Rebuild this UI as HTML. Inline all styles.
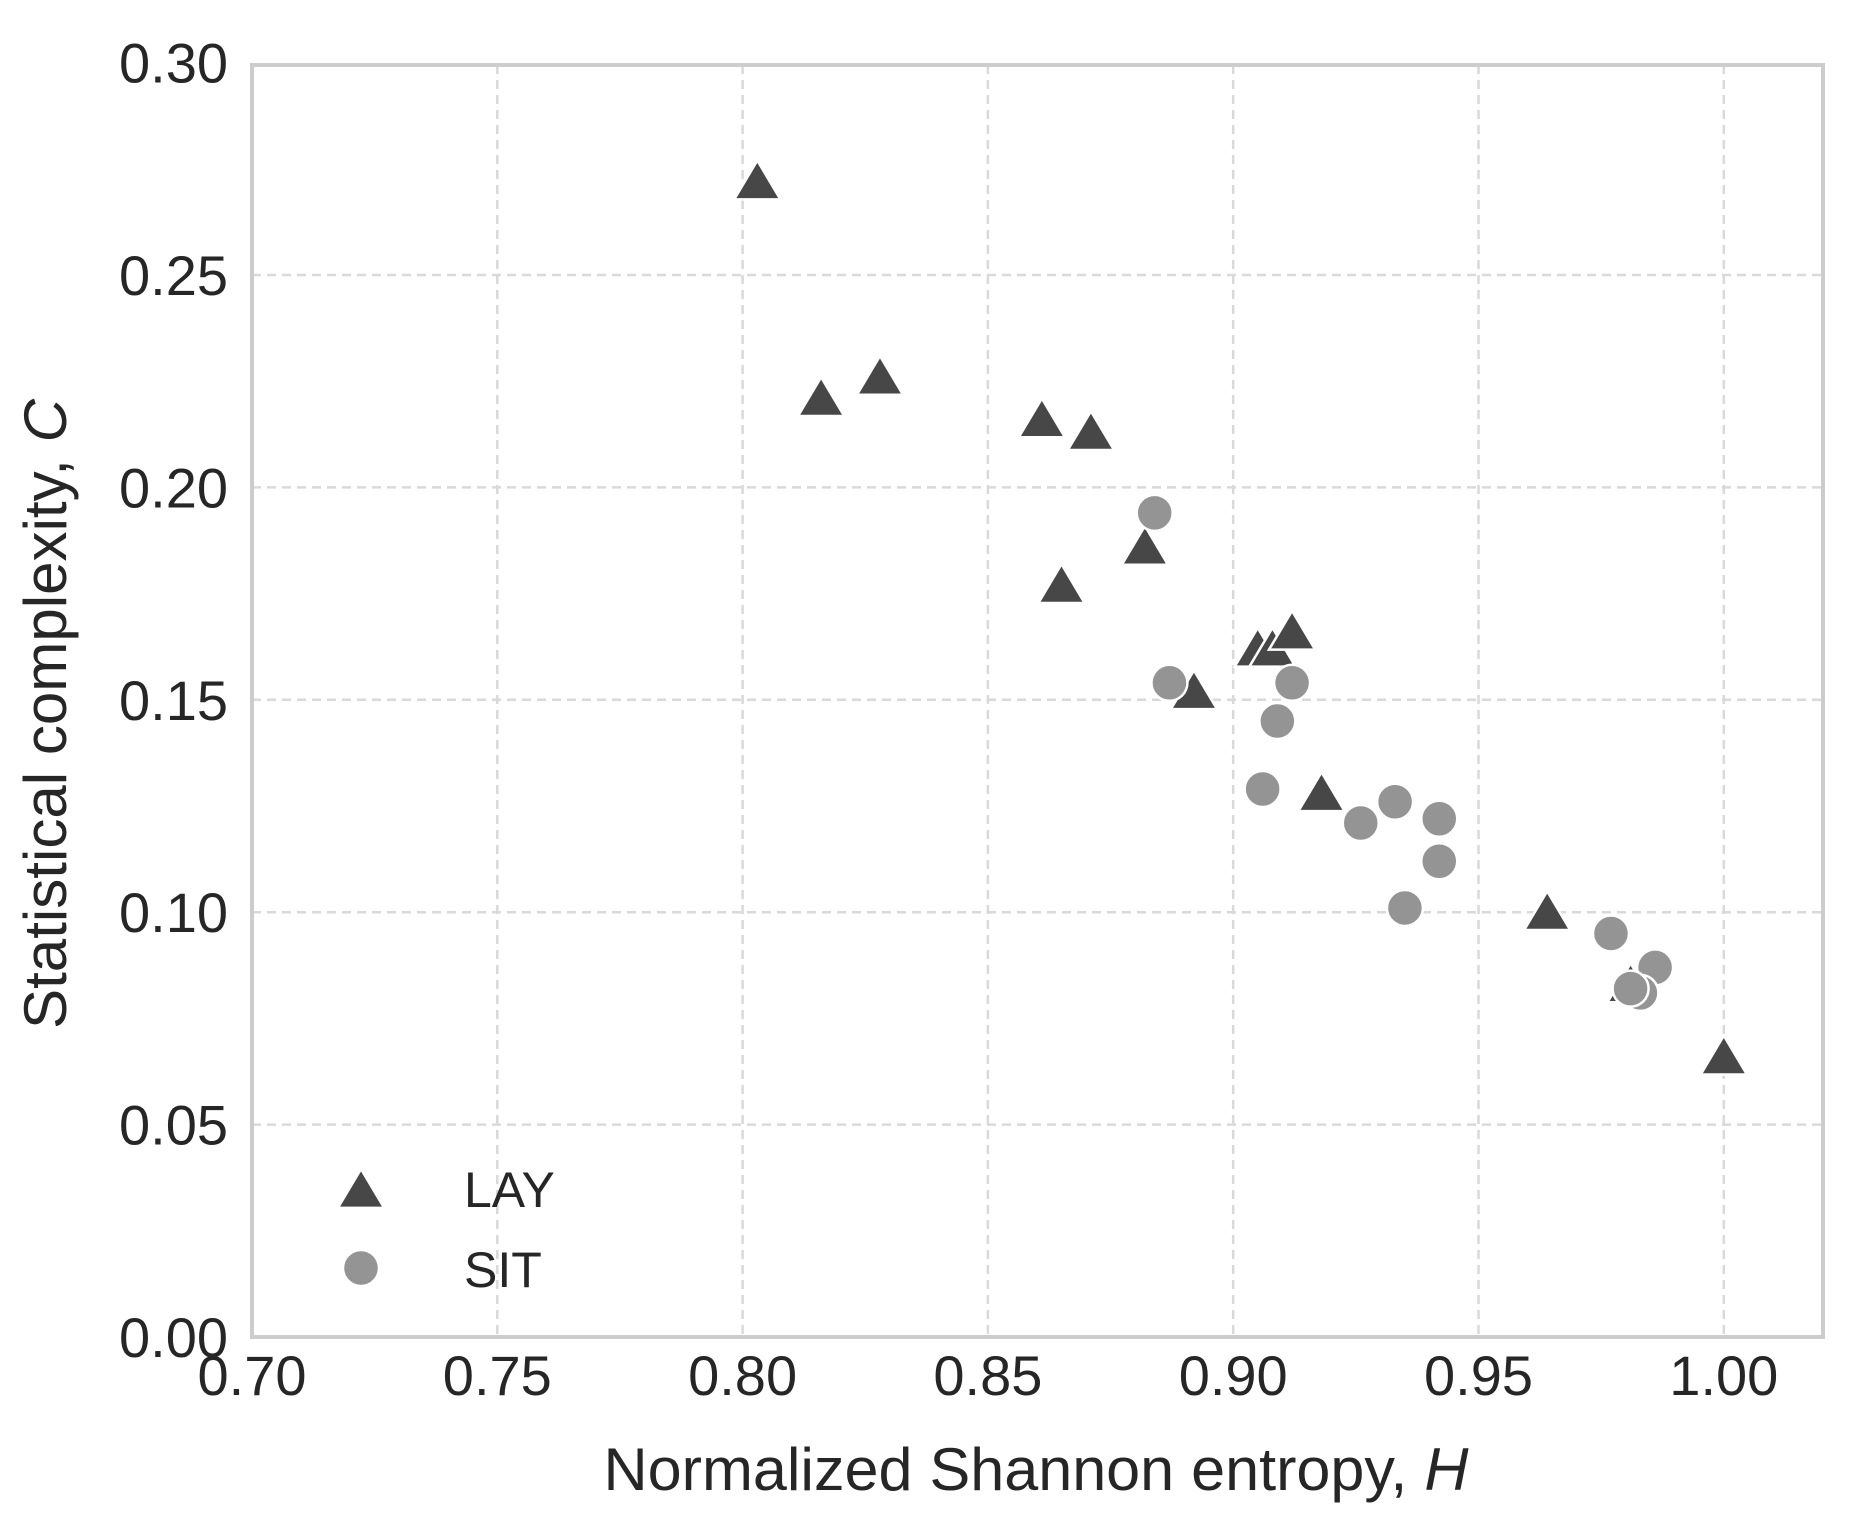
<!DOCTYPE html>
<html><head><meta charset="utf-8"><style>
html,body{margin:0;padding:0;background:#fff;}
svg{display:block;}
text{font-family:"Liberation Sans",Arial,sans-serif;fill:#262626;}
</style></head><body>
<svg id="s" width="1857" height="1522" viewBox="0 0 1857 1522" xmlns="http://www.w3.org/2000/svg">
<rect width="1857" height="1522" fill="#fff"/>
<g id="grid" stroke="#d9d9d9" stroke-width="2.5" stroke-dasharray="9,6"></g>
<rect x="252" y="65" width="1571" height="1272" fill="none" stroke="#cccccc" stroke-width="4"/>
<g id="ticks" font-size="56"></g>
<g id="pts"></g>
<text x="1036" y="1490" font-size="60" text-anchor="middle" textLength="865" lengthAdjust="spacingAndGlyphs">Normalized Shannon entropy, <tspan font-style="italic">H</tspan></text>
<text transform="translate(66,714) rotate(-90)" font-size="60" text-anchor="middle" textLength="630" lengthAdjust="spacingAndGlyphs">Statistical complexity, <tspan font-style="italic">C</tspan></text>
<g id="leg"></g>
<text x="464" y="1207" font-size="50">LAY</text>
<text x="464" y="1287" font-size="50">SIT</text>
</svg>
<script>
var NS="http://www.w3.org/2000/svg";
function X(h){return 252+(h-0.70)/0.05*245.3;}
function Y(c){return 1337-c/0.05*212.4;}
function el(p,t,a,txt){var e=document.createElementNS(NS,t);for(var k in a)e.setAttribute(k,a[k]);if(txt)e.textContent=txt;document.getElementById(p).appendChild(e);return e;}
for(var i=1;i<=6;i++){var x=X(0.70+i*0.05);el('grid','line',{x1:x,x2:x,y1:65,y2:1337});}
for(var i=1;i<=5;i++){var y=Y(i*0.05);el('grid','line',{x1:252,x2:1823,y1:y,y2:y});}
for(var i=0;i<=6;i++){el('ticks','text',{x:X(0.70+i*0.05),y:1395,'text-anchor':'middle'},(0.70+i*0.05).toFixed(2));}
for(var i=0;i<=6;i++){el('ticks','text',{x:228,y:Y(i*0.05)+20,'text-anchor':'end'},(i*0.05).toFixed(2));}
function tri(p,x,y){var s=21;el(p,'polygon',{points:(x)+','+(y-s)+' '+(x+s*1.1)+','+(y+s*0.85)+' '+(x-s*1.1)+','+(y+s*0.85),fill:'#474747',stroke:'#fff','stroke-width':2.5});}
function cir(p,x,y){el(p,'circle',{cx:x,cy:y,r:18,fill:'#949494',stroke:'#fff','stroke-width':2.5});}
var L=[[0.803,0.272],[0.816,0.221],[0.828,0.226],[0.861,0.216],[0.871,0.213],[0.882,0.186],[0.865,0.177],[0.905,0.162],[0.908,0.162],[0.912,0.166],[0.892,0.152],[0.918,0.128],[0.964,0.100],[1.000,0.066],[0.981,0.083]];
var S=[[0.884,0.194],[0.887,0.154],[0.912,0.154],[0.909,0.145],[0.906,0.129],[0.926,0.121],[0.933,0.126],[0.942,0.122],[0.942,0.112],[0.935,0.101],[0.977,0.095],[0.986,0.087],[0.983,0.081],[0.981,0.082]];
L.forEach(function(d){tri('pts',X(d[0]),Y(d[1]));});
S.forEach(function(d){cir('pts',X(d[0]),Y(d[1]));});
tri('leg',361,1190);cir('leg',361,1268);
</script>
</body></html>
